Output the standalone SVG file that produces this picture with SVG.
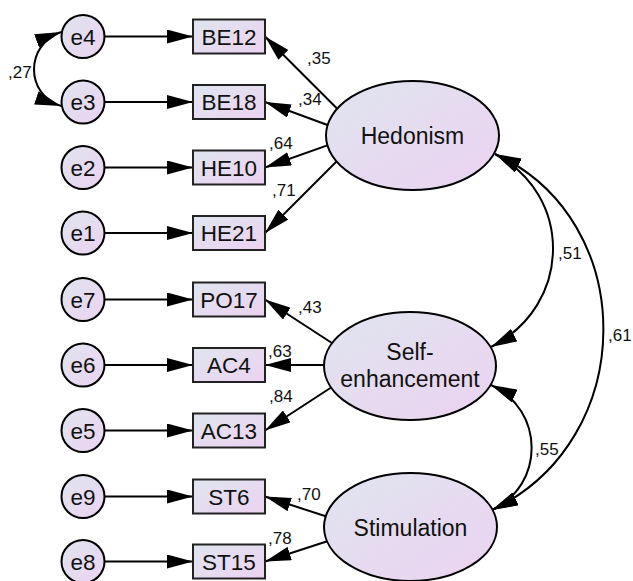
<svg xmlns="http://www.w3.org/2000/svg" width="633" height="581" viewBox="0 0 633 581">
  <style>
    .node { stroke: #000; stroke-width: 2; }
    .obs { stroke: #222; stroke-width: 2; }
    .lbl { font-family: "Liberation Sans", Arial, sans-serif; font-size: 22.5px; fill: #111; text-anchor: middle; }
    .lat { font-family: "Liberation Sans", Arial, sans-serif; font-size: 23px; fill: #111; text-anchor: middle; }
    .coef { font-family: "Liberation Sans", Arial, sans-serif; font-size: 17px; fill: #111; }
    .edge { stroke: #000; stroke-width: 2; fill: none; }
    .one { marker-end: url(#head); }
    .two { marker-start: url(#head); marker-end: url(#head); }
  </style>
  <defs>
    <linearGradient id="fillGrad" x1="0" y1="0" x2="1" y2="1">
      <stop offset="0" stop-color="#dfe5ef"/>
      <stop offset="1" stop-color="#ecd2f1"/>
    </linearGradient>
    <marker id="head" viewBox="0 0 26 14" refX="26" refY="7" markerWidth="26" markerHeight="14" markerUnits="userSpaceOnUse" orient="auto-start-reverse">
      <path d="M0,0 L26,7 L0,14 z" fill="#000"/>
    </marker>
  </defs>

  <rect width="633" height="581" fill="#fff"/>

  <!-- paths and covariances -->
  <g id="connectors">
    <!-- residuals into indicators -->
    <line class="edge one" x1="104.5" y1="36.5" x2="193" y2="36.5"/>
    <line class="edge one" x1="104.5" y1="102" x2="193" y2="102"/>
    <line class="edge one" x1="104.5" y1="167.5" x2="193" y2="167.5"/>
    <line class="edge one" x1="104.5" y1="233" x2="193" y2="233"/>
    <line class="edge one" x1="104.5" y1="299.5" x2="193" y2="299.5"/>
    <line class="edge one" x1="104.5" y1="365" x2="193" y2="365"/>
    <line class="edge one" x1="104.5" y1="430.5" x2="193" y2="430.5"/>
    <line class="edge one" x1="104.5" y1="496.5" x2="193" y2="496.5"/>
    <line class="edge one" x1="104.5" y1="561.5" x2="193" y2="561.5"/>

    <!-- Hedonism loadings -->
    <line class="edge one" x1="345" y1="116.5" x2="265" y2="36.5"/>
    <line class="edge one" x1="335" y1="127.8" x2="265" y2="102"/>
    <line class="edge one" x1="335" y1="142.6" x2="265" y2="167.5"/>
    <line class="edge one" x1="345" y1="153" x2="265" y2="233"/>

    <!-- Self-enhancement loadings -->
    <line class="edge one" x1="335" y1="345" x2="265" y2="299.5"/>
    <line class="edge one" x1="335" y1="365" x2="265" y2="365"/>
    <line class="edge one" x1="335" y1="385" x2="265" y2="430.5"/>

    <!-- Stimulation loadings -->
    <line class="edge one" x1="335" y1="519.3" x2="265" y2="496.5"/>
    <line class="edge one" x1="335" y1="538.8" x2="265" y2="561.5"/>

    <!-- covariances -->
    <path class="edge two" d="M61,32 C25,45 25,94 61,106"/>
    <path class="edge two" d="M495,154 C573,195 573,305 491,347"/>
    <path class="edge two" d="M495,154 C640,220 640,440 492,510"/>
    <path class="edge two" d="M491,385 C545,410 545,485 492,510"/>

    <!-- estimates -->
    <text class="coef" x="8" y="78">,27</text>
    <text class="coef" x="307" y="64">,35</text>
    <text class="coef" x="298" y="105">,34</text>
    <text class="coef" x="269" y="149">,64</text>
    <text class="coef" x="272" y="196">,71</text>
    <text class="coef" x="298" y="313">,43</text>
    <text class="coef" x="268" y="357">,63</text>
    <text class="coef" x="269" y="402">,84</text>
    <text class="coef" x="297" y="500">,70</text>
    <text class="coef" x="268" y="544">,78</text>
    <text class="coef" x="558" y="259">,51</text>
    <text class="coef" x="608" y="341">,61</text>
    <text class="coef" x="535" y="455">,55</text>
  </g>

  <!-- residual terms -->
  <g id="e4"><circle class="node" cx="83" cy="36.5" r="21.5" fill="url(#fillGrad)"/><text class="lbl" x="83" y="44.5">e4</text></g>
  <g id="e3"><circle class="node" cx="83" cy="102" r="21.5" fill="url(#fillGrad)"/><text class="lbl" x="83" y="110">e3</text></g>
  <g id="e2"><circle class="node" cx="83" cy="167.5" r="21.5" fill="url(#fillGrad)"/><text class="lbl" x="83" y="175.5">e2</text></g>
  <g id="e1"><circle class="node" cx="83" cy="233" r="21.5" fill="url(#fillGrad)"/><text class="lbl" x="83" y="241">e1</text></g>
  <g id="e7"><circle class="node" cx="83" cy="299.5" r="21.5" fill="url(#fillGrad)"/><text class="lbl" x="83" y="307.5">e7</text></g>
  <g id="e6"><circle class="node" cx="83" cy="365" r="21.5" fill="url(#fillGrad)"/><text class="lbl" x="83" y="373">e6</text></g>
  <g id="e5"><circle class="node" cx="83" cy="430.5" r="21.5" fill="url(#fillGrad)"/><text class="lbl" x="83" y="438.5">e5</text></g>
  <g id="e9"><circle class="node" cx="83" cy="496.5" r="21.5" fill="url(#fillGrad)"/><text class="lbl" x="83" y="504.5">e9</text></g>
  <g id="e8"><circle class="node" cx="83" cy="561.5" r="21.5" fill="url(#fillGrad)"/><text class="lbl" x="83" y="569.5">e8</text></g>

  <!-- observed indicators -->
  <g id="BE12"><rect class="obs" x="193" y="19.5" width="72" height="34" fill="url(#fillGrad)"/><text class="lbl" x="229" y="44.5">BE12</text></g>
  <g id="BE18"><rect class="obs" x="193" y="85" width="72" height="34" fill="url(#fillGrad)"/><text class="lbl" x="229" y="110">BE18</text></g>
  <g id="HE10"><rect class="obs" x="193" y="150.5" width="72" height="34" fill="url(#fillGrad)"/><text class="lbl" x="229" y="175.5">HE10</text></g>
  <g id="HE21"><rect class="obs" x="193" y="216" width="72" height="34" fill="url(#fillGrad)"/><text class="lbl" x="229" y="241">HE21</text></g>
  <g id="PO17"><rect class="obs" x="193" y="282.5" width="72" height="34" fill="url(#fillGrad)"/><text class="lbl" x="229" y="307.5">PO17</text></g>
  <g id="AC4"><rect class="obs" x="193" y="348" width="72" height="34" fill="url(#fillGrad)"/><text class="lbl" x="229" y="373">AC4</text></g>
  <g id="AC13"><rect class="obs" x="193" y="413.5" width="72" height="34" fill="url(#fillGrad)"/><text class="lbl" x="229" y="438.5">AC13</text></g>
  <g id="ST6"><rect class="obs" x="193" y="479.5" width="72" height="34" fill="url(#fillGrad)"/><text class="lbl" x="229" y="504.5">ST6</text></g>
  <g id="ST15"><rect class="obs" x="193" y="544.5" width="72" height="34" fill="url(#fillGrad)"/><text class="lbl" x="229" y="569.5">ST15</text></g>

  <!-- latent factors -->
  <g id="Hedonism"><ellipse class="node" cx="412.5" cy="135.5" rx="86.5" ry="54.5" fill="url(#fillGrad)"/><text class="lat" x="412.5" y="143.5">Hedonism</text></g>
  <g id="SelfEnhancement"><ellipse class="node" cx="410" cy="366" rx="86" ry="54" fill="url(#fillGrad)"/><text class="lat" x="410" y="360">Self-</text><text class="lat" x="410" y="387">enhancement</text></g>
  <g id="Stimulation"><ellipse class="node" cx="410.5" cy="527" rx="86.5" ry="54" fill="url(#fillGrad)"/><text class="lat" x="410.5" y="535.5">Stimulation</text></g>
</svg>
